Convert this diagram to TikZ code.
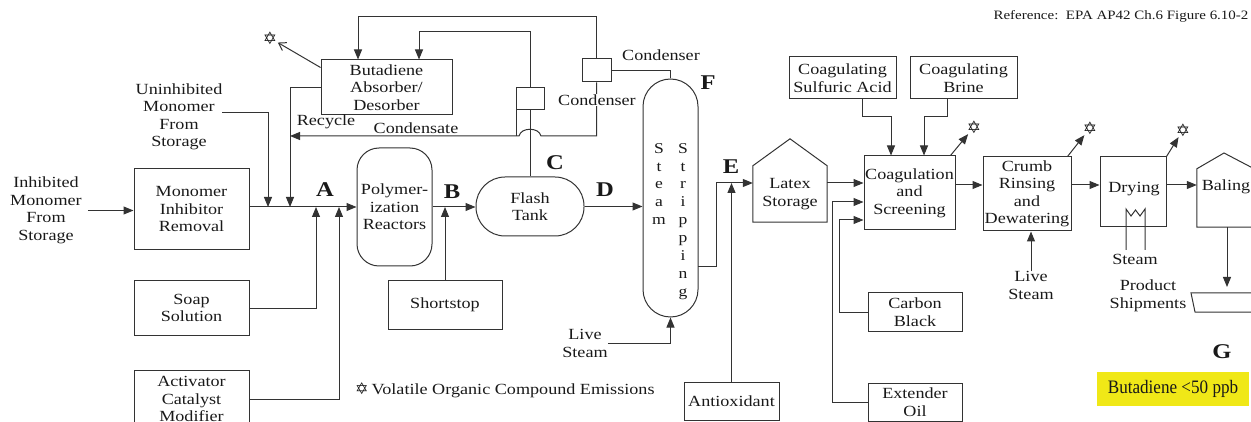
\documentclass[tikz,border=0pt]{standalone}
\usepackage{fontspec}
\setmainfont{Liberation Serif}[FakeStretch=1.17]
\newfontfamily\narrowserif{Liberation Serif}[FakeStretch=0.9]
\newfontfamily\symfont{DejaVu Sans}
\usetikzlibrary{arrows.meta,calc}
\definecolor{ln}{rgb}{0.2,0.2,0.2}
\definecolor{hl}{rgb}{0.94,0.91,0.09}
\begin{document}
\begin{tikzpicture}[x=1pt,y=-1pt,
  every node/.style={text=black!90, font=\fontsize{15.5}{17.5}\selectfont, align=center, inner sep=0pt},
  box/.style={draw=ln, line width=1pt},
  wire/.style={draw=ln, line width=1pt},
  arr/.style={wire, -{Triangle[length=10pt,width=8pt]}},
  oarr/.style={wire, -{Straight Barb[length=7pt,width=9pt]}},
  lab/.style={font=\fontsize{21}{21}\selectfont\bfseries},
  emis/.style={font=\symfont\fontsize{17}{17}\selectfont, inner sep=0.5pt},
  stack/.style={anchor=north, font=\fontsize{15}{17.9}\selectfont}]
\useasboundingbox (0,0) rectangle (1251,422);
\clip (0,0) rectangle (1251,422);

% ---------- nodes ----------
\node (inh) at (46,210.5) {Inhibited\\Monomer\\From\\Storage};
\node[box, minimum width=115, minimum height=81] (mir) at (191.5,209.5) {Monomer\\Inhibitor\\Removal};
\node[box, minimum width=115, minimum height=54] (soap) at (191.5,308) {Soap\\Solution};
\node[box, minimum width=115, minimum height=58] (act) at (191.5,399) {Activator\\Catalyst\\Modifier};
\node (uninh) at (179,117) {Uninhibited\\Monomer\\From\\Storage};
\node[box, rounded corners=22, minimum width=75, minimum height=118] (poly) at (394.5,207) {Polymer-\\ization\\Reactors};
\node[box, minimum width=114, minimum height=48] (short) at (445,305) {Shortstop};
\node[box, rounded corners=29, minimum width=108, minimum height=59] (flash) at (530,206.5) {Flash\\Tank};
\node[box, minimum width=131, minimum height=55] (bad) at (386.5,87.5) {Butadiene\\Absorber/\\Desorber};
\node[box, minimum width=28, minimum height=22] (cond1) at (530,99) {};
\node[box, minimum width=29, minimum height=23] (cond2) at (596.5,70.5) {};
\node[box, rounded corners=27.5, minimum width=55, minimum height=238] (col) at (670.5,198) {};
\node[stack] (colA) at (659,143) {S\\t\\e\\a\\m};
\node[stack] (colB) at (683,143) {S\\t\\r\\i\\p\\p\\i\\n\\g};
\node[box, minimum width=95, minimum height=38] (anti) at (731.5,401) {Antioxidant};
\node[minimum width=74, minimum height=56] (latex) at (790,194) {Latex\\Storage};
\draw[wire] (latex.south west) -- (latex.north west) -- ([yshift=27pt]latex.north) -- (latex.north east) -- (latex.south east) -- cycle;
\node[box, minimum width=107, minimum height=42] (csa) at (842.5,78) {Coagulating\\Sulfuric Acid};
\node[box, minimum width=107, minimum height=42] (cbr) at (963.5,78) {Coagulating\\Brine};
\node[box, minimum width=91, minimum height=74] (coag) at (909.5,193) {Coagulation\\and\\Screening};
\node[box, minimum width=94, minimum height=38] (cb) at (915,312) {Carbon\\Black};
\node[box, minimum width=94, minimum height=38] (eo) at (915,402) {Extender\\Oil};
\node[box, minimum width=88, minimum height=74] (crumb) at (1027,194) {Crumb\\Rinsing\\and\\Dewatering};
\node[box, minimum width=66, minimum height=70] (dry) at (1133,192) {};
\node (dryt) at (1134,189) {Drying};
\draw[wire] (1126,250) -- (1126,209) -- (1131,216) -- (1135.5,210) -- (1140,216) -- (1145,209) -- (1145,250);
\node (stm) at (1135,259) {Steam};
\node[minimum width=57, minimum height=58] (baling) at (1225.5,198) {};
\draw[wire] (baling.south west) -- (baling.north west) -- (1224,153) -- (baling.north east) -- (baling.south east) -- cycle;
\node (balt) at (1226,187) {Baling};
\node (pship) at (1148,296) {Product\\Shipments};
\draw[wire] (1191,293) -- (1262,293) -- (1257,312) -- (1195,312) -- cycle;
\node (ls1) at (585,343.5) {Live\\Steam};
\node (ls2) at (1031,285.5) {Live\\Steam};
\node (rec) at (326,122) {Recycle};
\node (cnd) at (416,128) {Condensate};
\node (cn1) at (661,55) {Condenser};

% labels
\node[lab] (lA) at (325,190) {A};
\node[lab] (lB) at (452,192) {B};
\node[lab] (lC) at (555,163) {C};
\node[lab] (lD) at (605,190) {D};
\node[lab] (lE) at (731,167) {E};
\node[lab] (lF) at (708,83) {F};
\node[lab] (lG) at (1222,352) {G};

% emissions stars
\node[emis] (s1) at (270,38) {✡};
\node[emis] (s2) at (974,127) {✡};
\node[emis] (s3) at (1090,128) {✡};
\node[emis] (s4) at (1183,130) {✡};

\node[anchor=west] (leg) at (355,390) {{\symfont\fontsize{16}{16}\selectfont ✡}\hspace{3pt}Volatile Organic Compound Emissions};
\node[font=\fontsize{12.8}{13}\selectfont] (ref) at (1121,16) {Reference:\ \ EPA AP42 Ch.6 Figure 6.10-2};
\node[fill=hl, minimum width=152, minimum height=34, font=\narrowserif\fontsize{19}{19}\selectfont] (bd) at (1173,389) {Butadiene <50 ppb};

% ---------- coordinates ----------
\coordinate (ju) at (268,207);
\coordinate (jr) at (290,207);
\coordinate (js) at (316,207);
\coordinate (ja) at (339,207);
\coordinate (u0) at (222,113);
\coordinate (t1) at (358,17);
\coordinate (t2) at (419,32);
\coordinate (h1) at (541,136);
\coordinate (h2) at (519,136);
\coordinate (rc) at (290,136);
\coordinate (colout) at (698,267);
\coordinate (jE) at (716,183);
\coordinate (r1) at (0,185);
\coordinate (c1) at (862,117);
\coordinate (c2) at (891,117);
\coordinate (c3) at (947,117);
\coordinate (c4) at (924,117);
\coordinate (k1) at (839,220);
\coordinate (k2) at (832,202);
\coordinate (shiptip) at (1227,287);

% ---------- connectors ----------
\draw[arr] ([xshift=6pt]inh.east) -- (inh.east -| mir.west);
\draw[arr] (mir.east |- poly.west) -- (poly.west);
\draw[arr] (u0) -| (ju);
\draw[arr] (bad.west) -| (jr);
\draw[arr] (soap.east) -| (js);
\draw[arr] (act.east) -| (ja);
\draw[arr] (cond2.north) |- (t1) -- (t1 |- bad.north);
\draw[arr] (cond1.north) |- (t2) -- (t2 |- bad.north);
\draw[wire] (cond1.south) -- (flash.north);
\draw[wire] ([xshift=1pt]cond1.south west) -- ++(0,26);
\draw[arr] (cond2.south) |- (h1) .. controls (539,127) and (521,127) .. (h2) -- (rc);
\node[fill=white, inner sep=1pt] (cn2) at (597,100) {Condenser};
\draw[wire] (cond2.east) -| (col.north);
\draw[arr] (poly.east) -- (poly.east -| flash.west);
\draw[arr] (short.north) -- (short.north |- poly.east);
\draw[arr] (flash.east) -- (flash.east -| col.west);
\draw[arr] (ls1.east) -| (col.south);
\draw[arr] (colout) -| (jE) -- (jE -| latex.west);
\draw[arr] (anti.north) -- (anti.north |- jE);
\draw[arr] (latex.east |- jE) -- (coag.west |- jE);
\draw[arr] (csa.south -| c1) -- (c1) -- (c2) -- (c2 |- coag.north);
\draw[arr] (cbr.south -| c3) -- (c3) -- (c4) -- (c4 |- coag.north);
\draw[arr] (eo.west) -| (k2) -- (k2 -| coag.west);
\draw[arr] (cb.west) -| (k1) -- (k1 -| coag.west);
\draw[arr] (coag.east |- r1) -- (crumb.west |- r1);
\draw[arr] (crumb.east |- r1) -- (dry.west |- r1);
\draw[arr] (dry.east |- r1) -- (baling.west |- r1);
\draw[arr] (ls2.north) -- (ls2.north |- crumb.south);
\draw[arr] (baling.south -| shiptip) -- (shiptip);
\draw[oarr] ([yshift=-8pt]bad.north west) -- (s1);
\draw[arr] ([xshift=-5pt]coag.north east) -- (s2);
\draw[arr] ([xshift=-4pt]crumb.north east) -- (s3);
\draw[arr] (dry.north east) -- (s4);
\end{tikzpicture}
\end{document}
